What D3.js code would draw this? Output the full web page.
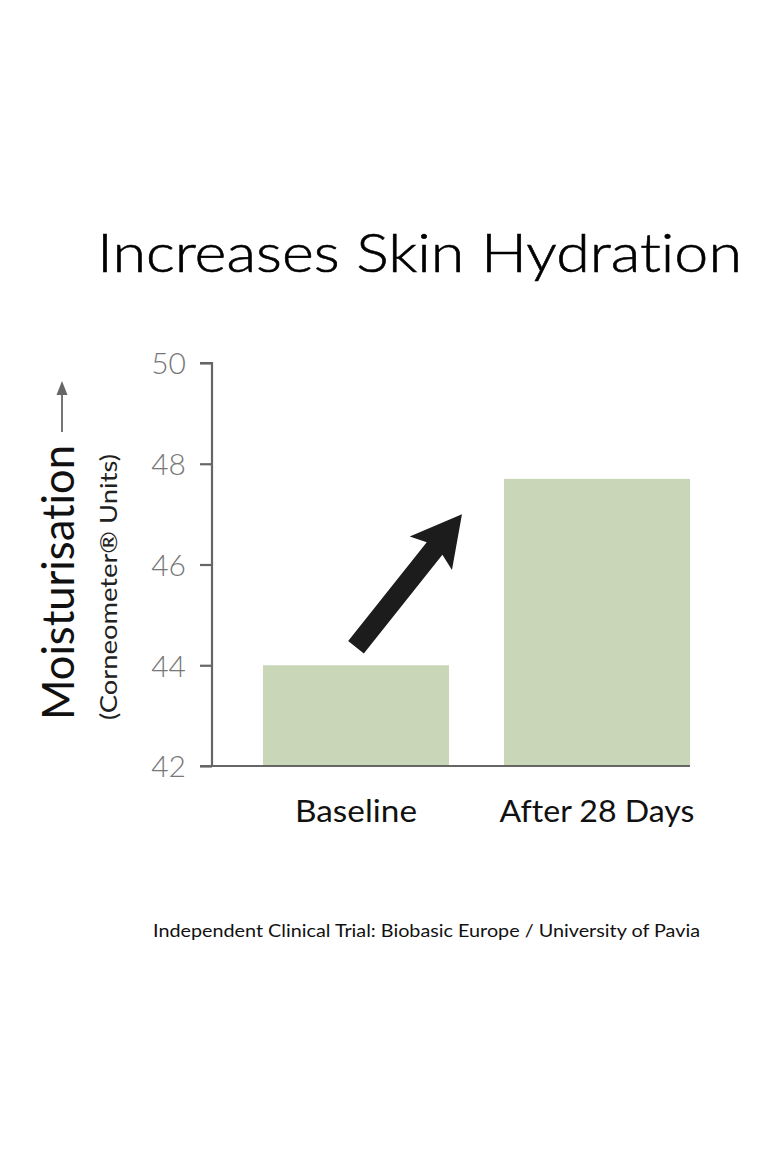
<!DOCTYPE html>
<html><head><meta charset="utf-8">
<script src="https://cdn.jsdelivr.net/npm/d3@7"></script>
<style>html,body{margin:0;padding:0;background:#fff;}svg{display:block;}text{font-variant-ligatures:none;font-feature-settings:"liga" 0;}</style>
</head><body>
<script>
const categories = ["Baseline", "After 28 Days"];
const values = [44.0, 47.7];
const yTicks = [42, 44, 46, 48, 50];
const title = "Increases Skin Hydration";
const yLabel = "Moisturisation";
const yUnits = "(Corneometer\u00AE Units)";
const footnote = "Independent Clinical Trial: Biobasic Europe / University of Pavia";

const W = 780, H = 1170;
const FONT = "Lato, 'Open Sans', sans-serif";
const svg = d3.select("body").append("svg").attr("width", W).attr("height", H);

const y = d3.scaleLinear().domain([42, 50]).range([766, 363]);
const x = d3.scaleBand().domain(categories).range([235.5, 717.5]).paddingInner(0.228).paddingOuter(0.114);
const axisX = 212;

// title
svg.append("text").attr("x", 97).attr("y", 272).attr("font-family", FONT).attr("font-weight", 300)
  .attr("font-size", 54).attr("fill", "#000").attr("stroke", "#000").attr("stroke-width", 0.6)
  .attr("textLength", 645).attr("lengthAdjust", "spacingAndGlyphs")
  .text(title);

// bars
svg.selectAll("rect.bar").data(values).enter().append("rect")
  .attr("x", (d, i) => x(categories[i])).attr("width", x.bandwidth())
  .attr("y", d => y(d)).attr("height", d => y(42) - y(d))
  .attr("fill", "#c9d7b8");

// y axis
const ya = svg.append("g").attr("transform", `translate(${axisX},0)`)
  .call(d3.axisLeft(y).tickValues(yTicks).tickSize(12).tickPadding(14).tickFormat(d3.format("d")));
ya.select(".domain").attr("stroke", "#666").attr("stroke-width", 2.2).attr("d", `M-12,${y(50)}H0V${y(42)}`);
ya.selectAll(".tick line").attr("stroke", "#666").attr("stroke-width", 2.2);
ya.selectAll(".tick text").attr("font-family", FONT).attr("font-weight", 300).attr("font-size", 30).attr("fill", "#777")
  .attr("dy", "0.36em");

// x axis baseline
svg.append("line").attr("x1", 200).attr("x2", x(categories[1]) + x.bandwidth())
  .attr("y1", y(42)).attr("y2", y(42)).attr("stroke", "#666").attr("stroke-width", 2.2);

// x labels
const xLabelWidths = [122, 195];
svg.selectAll("text.xl").data(categories).enter().append("text")
  .attr("x", d => x(d) + x.bandwidth() / 2).attr("y", 822).attr("text-anchor", "middle")
  .attr("font-family", FONT).attr("font-weight", 400).attr("font-size", 31).attr("fill", "#111")
  .attr("textLength", (d, i) => xLabelWidths[i]).attr("lengthAdjust", "spacingAndGlyphs")
  .text(d => d);

// y label
svg.append("text").attr("transform", "translate(74,720) rotate(-90)")
  .attr("font-family", FONT).attr("font-weight", 400).attr("font-size", 44).attr("fill", "#111")
  .attr("textLength", 275).attr("lengthAdjust", "spacingAndGlyphs").text(yLabel);
svg.append("line").attr("x1", 62).attr("x2", 62).attr("y1", 432).attr("y2", 394)
  .attr("stroke", "#666").attr("stroke-width", 1.8);
svg.append("path").attr("d", "M62,381 L56.5,395 L67.5,395 Z").attr("fill", "#666");
svg.append("text").attr("transform", "translate(117,720) rotate(-90)")
  .attr("font-family", FONT).attr("font-weight", 400).attr("font-size", 23).attr("fill", "#222")
  .attr("textLength", 266).attr("lengthAdjust", "spacingAndGlyphs").text(yUnits);

// annotation arrow (from baseline bar toward the after bar)
(function () {
  const tail = [x(categories[0]) + x.bandwidth() / 2, y(values[0]) - 18];
  const tip = [x(categories[1]) - 42, y(47)];
  const dx = tip[0] - tail[0], dy = tip[1] - tail[1];
  const len = Math.hypot(dx, dy);
  const ang = Math.atan2(dy, dx) * 180 / Math.PI;
  const sw = 10, hl = 50, hw = 27;
  const p = [[0, -sw], [len - hl + 6, -sw], [len - hl, -hw], [len, 0], [len - hl, hw], [len - hl + 6, sw], [0, sw]];
  svg.append("path").attr("transform", `translate(${tail[0]},${tail[1]}) rotate(${ang})`)
    .attr("d", "M" + p.map(q => q.join(",")).join("L") + "Z").attr("fill", "#1c1c1c");
})();

// footnote
svg.append("text").attr("x", 153).attr("y", 937).attr("font-family", FONT)
  .attr("font-size", 18).attr("fill", "#111").attr("textLength", 547).attr("lengthAdjust", "spacingAndGlyphs")
  .text(footnote);
</script>
</body></html>
